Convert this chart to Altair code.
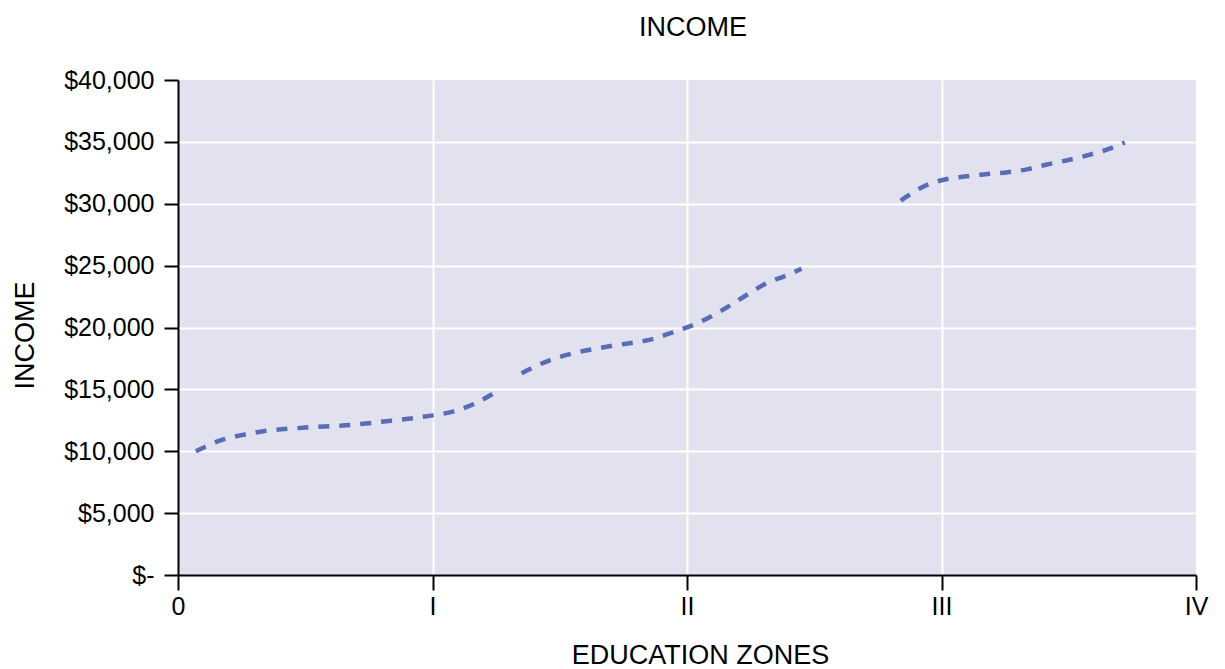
import json
import altair as alt
import pandas as pd

# ---- data ----
seg_a_x = [0.07, 0.17, 0.25, 0.33, 0.49, 0.66, 0.83, 1.00, 1.08, 1.16, 1.25]
seg_a_y = [10000, 10900, 11300, 11600, 11900, 12100, 12450, 12900, 13200, 13800, 14800]

seg_b_x = [1.35, 1.46, 1.55, 1.70, 1.87, 1.95, 2.03, 2.10, 2.17, 2.24, 2.31, 2.39, 2.45]
seg_b_y = [16300, 17350, 17900, 18500, 19100, 19650, 20250, 20950, 21800, 22700, 23550, 24200, 24750]

seg_c_x = [2.84, 2.93, 3.00, 3.09, 3.18, 3.26, 3.34, 3.41, 3.49, 3.58, 3.66, 3.72]
seg_c_y = [30250, 31400, 31900, 32200, 32400, 32550, 32800, 33150, 33500, 33950, 34450, 34950]

zone_values = [0, 1, 2, 3, 4]
zone_labels = ["0", "I", "II", "III", "IV"]
income_ticks = [0, 5000, 10000, 15000, 20000, 25000, 30000, 35000, 40000]

rows = []
for name, xs, ys in (("A", seg_a_x, seg_a_y), ("B", seg_b_x, seg_b_y), ("C", seg_c_x, seg_c_y)):
    for x, y in zip(xs, ys):
        rows.append({"zone": x, "income": y, "segment": name})
df = pd.DataFrame(rows)

FONT = "Liberation Sans"
NB = "\u00a0"

x_label_expr = json.dumps(zone_labels) + "[datum.value]"
y_label_expr = ("datum.value == 0 ? '$-" + NB * 6 + "' : '$' + format(datum.value, ',')")

chart = (
    alt.Chart(df)
    .mark_line(
        color="#5a6db4",
        strokeWidth=4.5,
        strokeDash=[11, 10],
        interpolate="monotone",
        strokeCap="butt",
    )
    .encode(
        x=alt.X(
            "zone:Q",
            scale=alt.Scale(domain=[0, 4], nice=False, zero=False),
            axis=alt.Axis(
                values=zone_values,
                labelExpr=x_label_expr,
                title="EDUCATION ZONES",
                titleFont=FONT,
                titleFontSize=27,
                titleFontWeight="normal",
                titleColor="black",
                titleX=522,
                titleY=88,
                titleAlign="center",
                titleBaseline="alphabetic",
                labelFont=FONT,
                labelFontSize=25,
                labelColor="black",
                labelPadding=4,
                labelFlush=False,
                labelOverlap=False,
                tickSize=15,
                tickWidth=2,
                tickColor="black",
                domainColor="black",
                domainWidth=2,
                grid=True,
                gridColor=alt.condition("datum.value >= 4 || datum.value <= 0", alt.value("transparent"), alt.value("white")),
                gridWidth=2,
            ),
        ),
        y=alt.Y(
            "income:Q",
            scale=alt.Scale(domain=[0, 40000], nice=False),
            axis=alt.Axis(
                values=income_ticks,
                labelExpr=y_label_expr,
                title="INCOME",
                titleFont=FONT,
                titleFontSize=27,
                titleFontWeight="normal",
                titleColor="black",
                titleX=-145,
                titleY=255,
                titleAngle=270,
                titleAlign="center",
                titleBaseline="alphabetic",
                labelFont=FONT,
                labelFontSize=25,
                labelColor="black",
                labelPadding=10,
                labelOverlap=False,
                tickSize=14,
                tickWidth=2,
                tickColor="black",
                domainColor="black",
                domainWidth=2,
                grid=True,
                gridColor=alt.condition("datum.value >= 40000 || datum.value <= 0", alt.value("transparent"), alt.value("white")),
                gridWidth=2,
            ),
        ),
        detail="segment:N",
    )
    .properties(
        width=1018,
        height=495,
        title=alt.TitleParams(
            "INCOME",
            font=FONT,
            fontSize=27,
            fontWeight="normal",
            color="black",
            anchor="middle",
            frame="group",
            offset=26,
            dx=6,
        ),
        autosize=alt.AutoSizeParams(type="none"),
        padding={"left": 170, "top": 72, "right": 21, "bottom": 94},
        background="white",
    )
    .configure_view(fill="#e1e1ef", stroke=None)
)

chart.save("out.html", embed_options={"renderer": "svg", "actions": False})
